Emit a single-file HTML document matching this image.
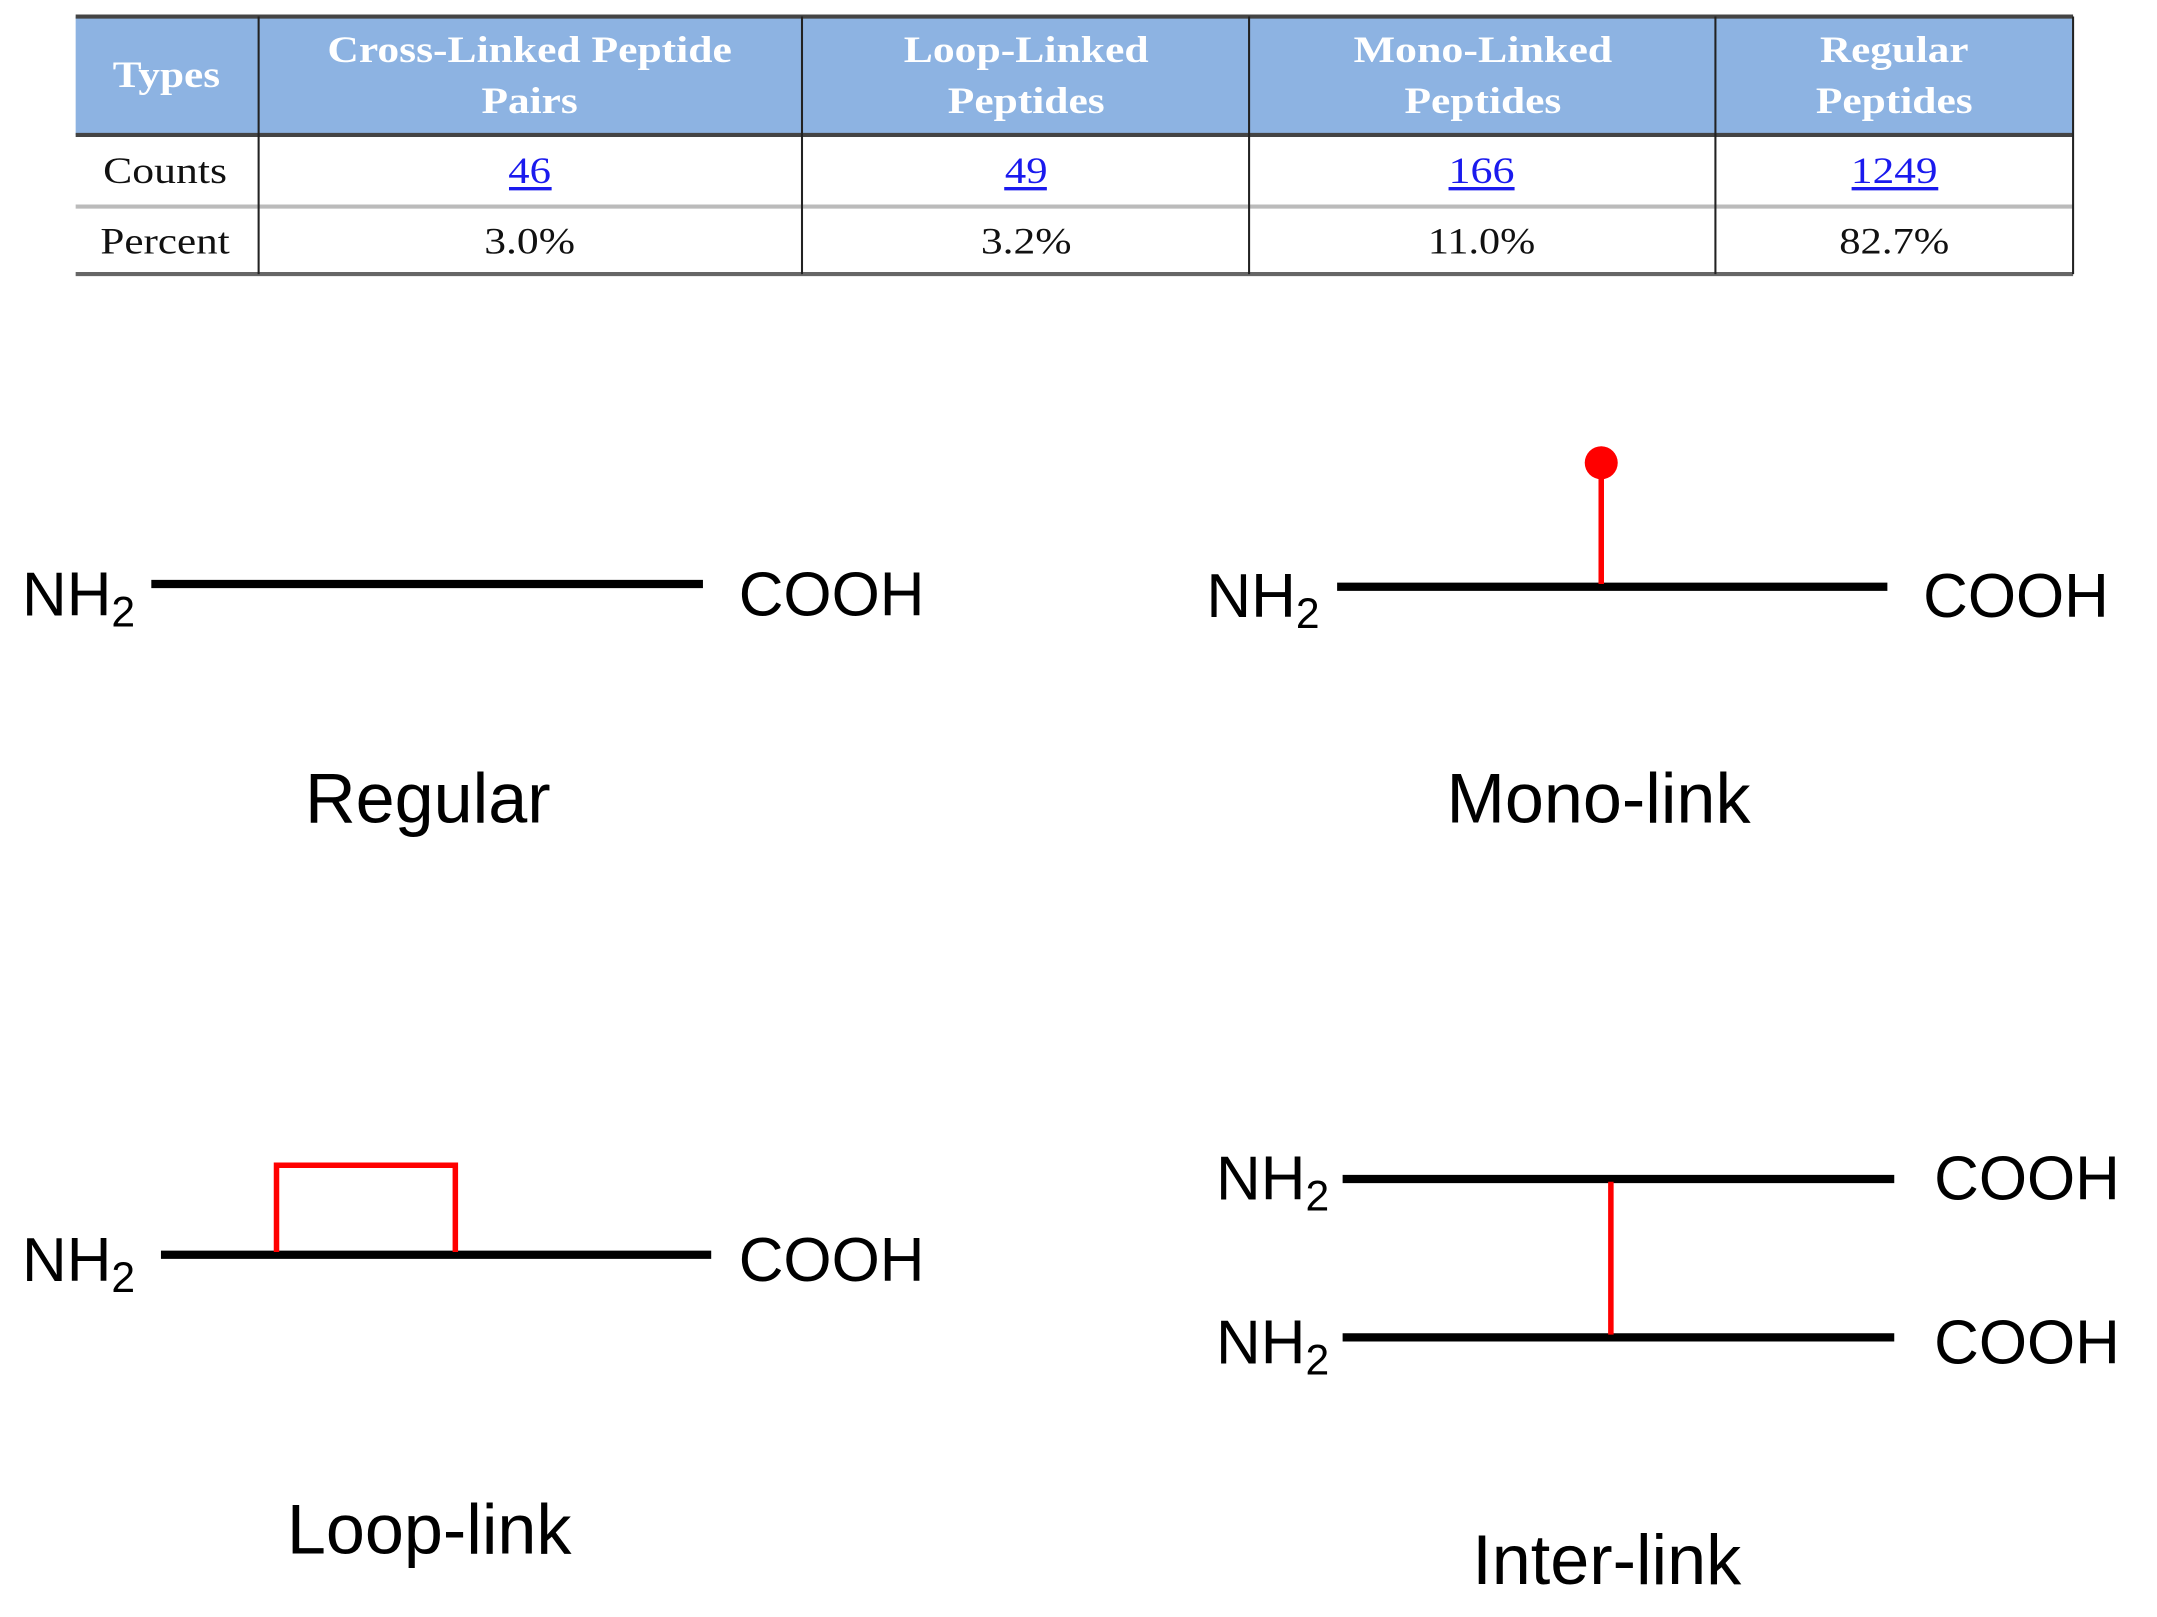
<!DOCTYPE html>
<html><head><meta charset="utf-8"><style>
html,body{margin:0;padding:0;background:#fff;}
svg{display:block;}
</style></head><body>
<svg width="2157" height="1617" viewBox="0 0 1568 1174" preserveAspectRatio="none" xmlns="http://www.w3.org/2000/svg">
<rect width="1568" height="1174" fill="#fff"/>
<!-- table -->
<rect x="55" y="12" width="1452" height="86" fill="#8DB3E2"/>
<line x1="55" y1="12" x2="1507" y2="12" stroke="#444" stroke-width="3"/>
<line x1="55" y1="98" x2="1507" y2="98" stroke="#444" stroke-width="3"/>
<line x1="55" y1="150" x2="1507" y2="150" stroke="#bbb" stroke-width="3"/>
<line x1="55" y1="199" x2="1507" y2="199" stroke="#666" stroke-width="3"/>
<g stroke="#222" stroke-width="1.5">
<line x1="188" y1="12" x2="188" y2="199"/>
<line x1="583" y1="12" x2="583" y2="199"/>
<line x1="908" y1="12" x2="908" y2="199"/>
<line x1="1247" y1="12" x2="1247" y2="199"/>
<line x1="1507" y1="12" x2="1507" y2="199"/>
</g>
<g font-family="Liberation Serif, serif" font-weight="bold" font-size="27" fill="#fff" text-anchor="middle" lengthAdjust="spacingAndGlyphs">
<text x="121" y="63" textLength="78" lengthAdjust="spacingAndGlyphs">Types</text>
<text x="385" y="45" textLength="294" lengthAdjust="spacingAndGlyphs">Cross-Linked Peptide</text>
<text x="385" y="82" textLength="70" lengthAdjust="spacingAndGlyphs">Pairs</text>
<text x="746" y="45" textLength="178" lengthAdjust="spacingAndGlyphs">Loop-Linked</text>
<text x="746" y="82" textLength="114" lengthAdjust="spacingAndGlyphs">Peptides</text>
<text x="1078" y="45" textLength="188" lengthAdjust="spacingAndGlyphs">Mono-Linked</text>
<text x="1078" y="82" textLength="114" lengthAdjust="spacingAndGlyphs">Peptides</text>
<text x="1377" y="45" textLength="108" lengthAdjust="spacingAndGlyphs">Regular</text>
<text x="1377" y="82" textLength="114" lengthAdjust="spacingAndGlyphs">Peptides</text>
</g>
<g font-family="Liberation Serif, serif" font-size="27" fill="#111" text-anchor="middle">
<text x="120" y="133" textLength="90" lengthAdjust="spacingAndGlyphs">Counts</text>
<text x="120" y="184" textLength="94" lengthAdjust="spacingAndGlyphs">Percent</text>
<text x="385" y="184" textLength="66" lengthAdjust="spacingAndGlyphs">3.0%</text>
<text x="746" y="184" textLength="66" lengthAdjust="spacingAndGlyphs">3.2%</text>
<text x="1077" y="184" textLength="78" lengthAdjust="spacingAndGlyphs">11.0%</text>
<text x="1377" y="184" textLength="80" lengthAdjust="spacingAndGlyphs">82.7%</text>
<g fill="#1a1aee">
<text x="385" y="133" textLength="31" lengthAdjust="spacingAndGlyphs">46</text>
<text x="746" y="133" textLength="31" lengthAdjust="spacingAndGlyphs">49</text>
<text x="1077" y="133" textLength="48" lengthAdjust="spacingAndGlyphs">166</text>
<text x="1377" y="133" textLength="63" lengthAdjust="spacingAndGlyphs">1249</text>
</g>
</g>
<g stroke="#1a1aee" stroke-width="2.5">
<line x1="370" y1="137" x2="401" y2="137"/>
<line x1="730" y1="137" x2="761" y2="137"/>
<line x1="1053" y1="137" x2="1101" y2="137"/>
<line x1="1346" y1="137" x2="1409" y2="137"/>
</g>
<!-- diagrams -->
<g font-family="Liberation Sans, Arial, sans-serif" fill="#000">
<g font-size="45">
<text x="16" y="447">NH<tspan font-size="31" dy="8">2</tspan></text>
<text x="537" y="447">COOH</text>
<text x="877" y="448">NH<tspan font-size="31" dy="8">2</tspan></text>
<text x="1398" y="448">COOH</text>
<text x="16" y="930">NH<tspan font-size="31" dy="8">2</tspan></text>
<text x="537" y="930">COOH</text>
<text x="884" y="871">NH<tspan font-size="31" dy="8">2</tspan></text>
<text x="1406" y="871">COOH</text>
<text x="884" y="990">NH<tspan font-size="31" dy="8">2</tspan></text>
<text x="1406" y="990">COOH</text>
</g>
<g font-size="51" text-anchor="middle">
<text x="311" y="597">Regular</text>
<text x="1162" y="597">Mono-link</text>
<text x="312" y="1128">Loop-link</text>
<text x="1168" y="1150">Inter-link</text>
</g>
</g>
<g stroke="#000" stroke-width="6">
<line x1="110" y1="424" x2="511" y2="424"/>
<line x1="972" y1="426" x2="1372" y2="426"/>
<line x1="117" y1="911" x2="517" y2="911"/>
<line x1="976" y1="856" x2="1377" y2="856"/>
<line x1="976" y1="971" x2="1377" y2="971"/>
</g>
<g stroke="#f00" stroke-width="4" fill="none">
<line x1="1164" y1="340" x2="1164" y2="424"/>
<polyline points="201,909 201,846 331,846 331,909"/>
<line x1="1171" y1="858" x2="1171" y2="969"/>
</g>
<ellipse cx="1164" cy="336" rx="12" ry="12" fill="#f00"/>
</svg>
</body></html>
